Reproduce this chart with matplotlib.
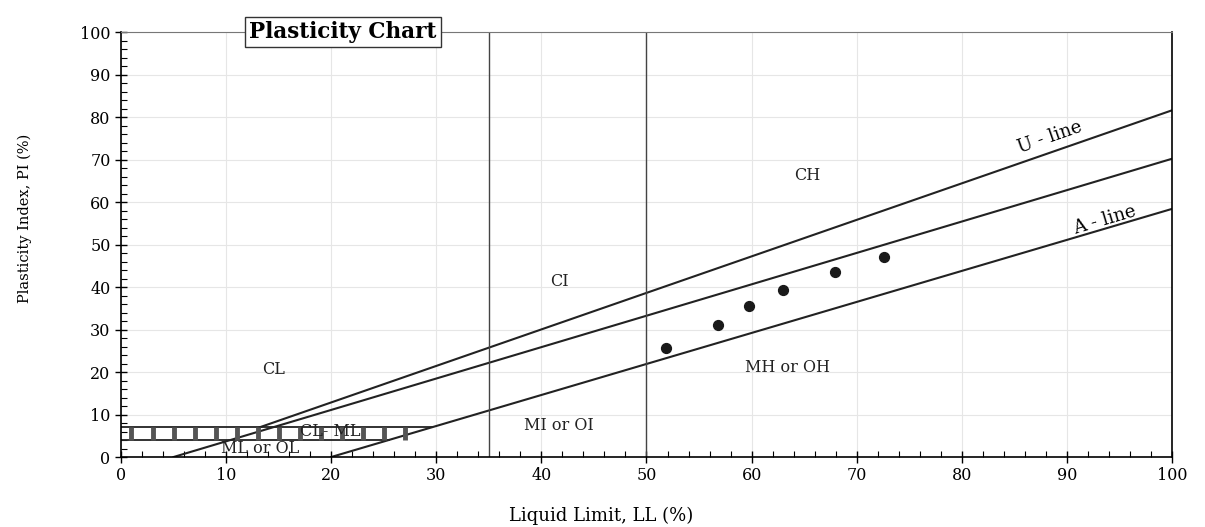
import matplotlib
matplotlib.use("Agg")
import matplotlib.pyplot as plt
import numpy as np

# Data
ll_points = [51.9, 56.8, 59.8, 63.0, 67.9, 72.6]
pi_points = [25.7, 31.0, 35.6, 39.2, 43.5, 47.0]

# Chart lines (LL, PI endpoints)
u_line_ll = [13.2, 100]
u_line_pi = [7.0, 81.6]
mid_line_ll = [5, 100]
mid_line_pi = [0, 70.2]
a_line_ll = [20, 100]
a_line_pi = [0, 58.4]
divisions_ll = [35, 50]
band_pi = [4, 7]
band_ll_end = [25.5, 29.6]
hatch_ll = list(range(1, 29, 2))

zone_labels = ["CL", "CI", "CH", "MH or OH", "MI or OI", "ML or OL", "CL- ML"]
zone_x = [14.5, 41.7, 65.3, 63.4, 41.7, 13.2, 19.9]
zone_y = [20.5, 41.3, 66.3, 21.0, 7.5, 2.1, 5.9]

x_ticks = list(range(0, 101, 10))
y_ticks = list(range(0, 101, 10))

plt.rcParams['font.family'] = ['DejaVu Serif']
fig = plt.figure(figsize=(12.05, 5.27), dpi=100)
ax = fig.add_axes([0.1004, 0.1328, 0.8722, 0.8062])
ax.set_xlim(0, 100)
ax.set_ylim(0, 100)

ax.set_xticks(x_ticks)
ax.set_yticks(y_ticks)
ax.set_xticks(np.arange(0, 101, 2), minor=True)
ax.set_yticks(np.arange(0, 101, 2), minor=True)
ax.tick_params(which='major', direction='inout', length=8, width=1, labelsize=11.5)
ax.tick_params(which='minor', direction='in', length=4, width=0.8)
ax.grid(True, which='major', color='#e6e6e6', linewidth=0.8)
for s in ['left', 'bottom', 'right']:
    ax.spines[s].set_linewidth(1.2)
ax.spines['top'].set_linewidth(0.8)
ax.spines['top'].set_color('#777777')

lc = '#222222'
ax.plot(u_line_ll, u_line_pi, color=lc, lw=1.5)
ax.plot(mid_line_ll, mid_line_pi, color=lc, lw=1.5)
ax.plot(a_line_ll, a_line_pi, color=lc, lw=1.5)
for d in divisions_ll:
    ax.axvline(d, color='#444444', lw=1.0)

# hatched band
ax.plot([0, band_ll_end[0]], [band_pi[0], band_pi[0]], color=lc, lw=1.3)
ax.plot([0, band_ll_end[1]], [band_pi[1], band_pi[1]], color=lc, lw=1.3)
for h in hatch_ll:
    ax.plot([h, h], [band_pi[0], band_pi[1]], color='#555555', lw=3.5,
            solid_capstyle='butt')

ax.scatter(ll_points, pi_points, s=50, color='#1a1a1a', zorder=5)

for t, x, y in zip(zone_labels, zone_x, zone_y):
    ax.text(x, y, t, fontsize=11.5, ha='center', va='center', color='#222222', zorder=6)

ang_u = np.degrees(np.arctan2((u_line_pi[1]-u_line_pi[0]) * 4.24, (u_line_ll[1]-u_line_ll[0]) * 10.51))
ang_a = np.degrees(np.arctan2((a_line_pi[1]-a_line_pi[0]) * 4.24, (a_line_ll[1]-a_line_ll[0]) * 10.51))
ax.text(88.4, 75.3, "U - line", fontsize=13, rotation=ang_u, ha='center', va='center',
        rotation_mode='anchor')
ax.text(93.6, 55.7, "A - line", fontsize=13, rotation=ang_a, ha='center', va='center',
        rotation_mode='anchor')

ax.text(21.1, 100, "Plasticity Chart", fontsize=15.5, fontweight='bold', ha='center', va='center',
        bbox=dict(boxstyle='square,pad=0.2', facecolor='white', edgecolor='#333333', lw=1.0),
        zorder=10, clip_on=False)

ax.set_xlabel("Liquid Limit, LL (%)", fontsize=13, va='center')
ax.xaxis.set_label_coords(0.457, -0.138)
ax.set_ylabel("Plasticity Index, PI (%)", fontsize=10.5)
ax.yaxis.set_label_coords(-0.085, 0.561)

fig.savefig("out.png", dpi=100)
